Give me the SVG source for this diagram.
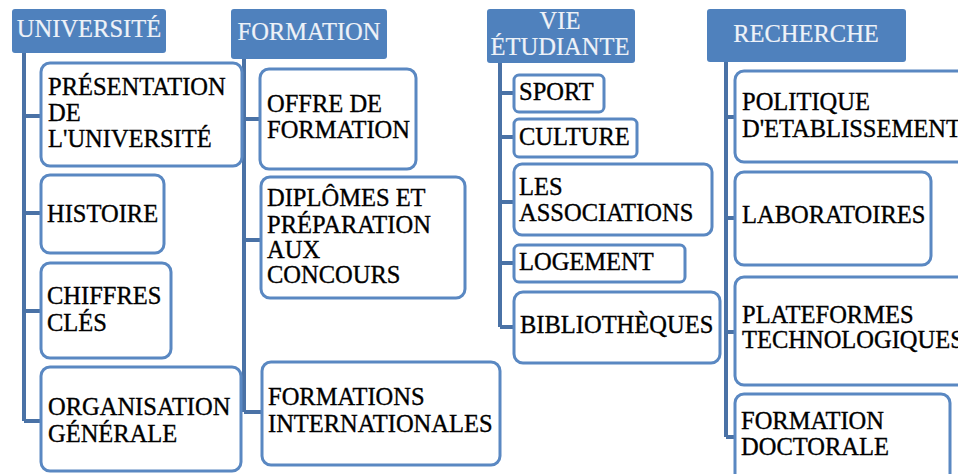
<svg xmlns="http://www.w3.org/2000/svg" width="958" height="474" viewBox="0 0 958 474">
  <style>
    text { font-family: 'Liberation Serif', 'Times New Roman', serif; font-size: 24.5px; }
    .head rect { fill: #4F81BD; }
    .head text { fill: #EEF2F8; stroke: #EEF2F8; stroke-width: 0.2; }
    .item rect { fill: #FFFFFF; stroke: #5A88C2; stroke-width: 3; }
    .item text { fill: #000000; stroke: #000000; stroke-width: 0.35; }
    .links path { fill: none; stroke: #4A72A6; stroke-width: 4; }
  </style>

  <!-- connectors: one trunk per column with a stub to each item -->
  <g id="connectors" class="links">
    <path d="M24 53 V421 M24 116 H41 M24 213 H41 M24 311 H41 M24 421 H41"/>
    <path d="M244 59 V412 M244 119 H260 M244 240 H261 M244 412 H262"/>
    <path d="M500 63 V327 M500 93 H514 M500 137 H514 M500 202 H514 M500 263 H514 M500 327 H514"/>
    <path d="M726 62 V437 M726 117 H735 M726 218 H735 M726 332 H735 M726 437 H735"/>
  </g>

  <!-- column headers -->
  <g id="universite" class="head">
    <rect x="12" y="9" width="154" height="44" rx="3"/>
    <text x="89" y="37" text-anchor="middle">UNIVERSITÉ</text>
  </g>
  <g id="formation" class="head">
    <rect x="231" y="9" width="156" height="50" rx="3"/>
    <text x="309" y="40" text-anchor="middle">FORMATION</text>
  </g>
  <g id="vie-etudiante" class="head">
    <rect x="487" y="9" width="148" height="54" rx="3"/>
    <text x="560" y="29" text-anchor="middle">VIE</text>
    <text x="560" y="55" text-anchor="middle">ÉTUDIANTE</text>
  </g>
  <g id="recherche" class="head">
    <rect x="707" y="9" width="199" height="53" rx="3"/>
    <text x="806" y="42" text-anchor="middle">RECHERCHE</text>
  </g>

  <!-- UNIVERSITÉ items -->
  <g id="presentation" class="item">
    <rect x="41" y="63" width="201" height="103" rx="9"/>
    <text x="48" y="95">PRÉSENTATION</text>
    <text x="48" y="121">DE</text>
    <text x="48" y="147">L'UNIVERSITÉ</text>
  </g>
  <g id="histoire" class="item">
    <rect x="41" y="175" width="123" height="78" rx="9"/>
    <text x="47" y="222">HISTOIRE</text>
  </g>
  <g id="chiffres" class="item">
    <rect x="41" y="263" width="130" height="95" rx="9"/>
    <text x="47" y="304">CHIFFRES</text>
    <text x="47" y="331">CLÉS</text>
  </g>
  <g id="organisation" class="item">
    <rect x="41" y="367" width="200" height="104" rx="9"/>
    <text x="48" y="415">ORGANISATION</text>
    <text x="48" y="442">GÉNÉRALE</text>
  </g>

  <!-- FORMATION items -->
  <g id="offre" class="item">
    <rect x="260" y="69" width="156" height="100" rx="9"/>
    <text x="267" y="112">OFFRE DE</text>
    <text x="267" y="138">FORMATION</text>
  </g>
  <g id="diplomes" class="item">
    <rect x="261" y="177" width="204" height="121" rx="9"/>
    <text x="267" y="206">DIPLÔMES ET</text>
    <text x="267" y="233">PRÉPARATION</text>
    <text x="267" y="258">AUX</text>
    <text x="267" y="283">CONCOURS</text>
  </g>
  <g id="internationales" class="item">
    <rect x="262" y="362" width="238" height="103" rx="9"/>
    <text x="268" y="405">FORMATIONS</text>
    <text x="268" y="432">INTERNATIONALES</text>
  </g>

  <!-- VIE ÉTUDIANTE items -->
  <g id="sport" class="item">
    <rect x="514" y="75" width="90" height="37" rx="5"/>
    <text x="519" y="100">SPORT</text>
  </g>
  <g id="culture" class="item">
    <rect x="514" y="119" width="123" height="38" rx="5"/>
    <text x="519" y="145">CULTURE</text>
  </g>
  <g id="associations" class="item">
    <rect x="514" y="164" width="198" height="71" rx="8"/>
    <text x="519" y="195">LES</text>
    <text x="519" y="221">ASSOCIATIONS</text>
  </g>
  <g id="logement" class="item">
    <rect x="514" y="245" width="171" height="37" rx="5"/>
    <text x="519" y="270">LOGEMENT</text>
  </g>
  <g id="bibliotheques" class="item">
    <rect x="514" y="292" width="206" height="71" rx="9"/>
    <text x="520" y="333">BIBLIOTHÈQUES</text>
  </g>

  <!-- RECHERCHE items -->
  <g id="politique" class="item">
    <rect x="735" y="71" width="240" height="91" rx="9"/>
    <text x="742" y="110">POLITIQUE</text>
    <text x="742" y="137">D'ETABLISSEMENT</text>
  </g>
  <g id="laboratoires" class="item">
    <rect x="735" y="172" width="196" height="93" rx="9"/>
    <text x="742" y="223">LABORATOIRES</text>
  </g>
  <g id="plateformes" class="item">
    <rect x="735" y="277" width="240" height="108" rx="9"/>
    <text x="742" y="323">PLATEFORMES</text>
    <text x="742" y="348">TECHNOLOGIQUES</text>
  </g>
  <g id="doctorale" class="item">
    <rect x="735" y="394" width="215" height="90" rx="9"/>
    <text x="741" y="429">FORMATION</text>
    <text x="741" y="455">DOCTORALE</text>
  </g>
</svg>
